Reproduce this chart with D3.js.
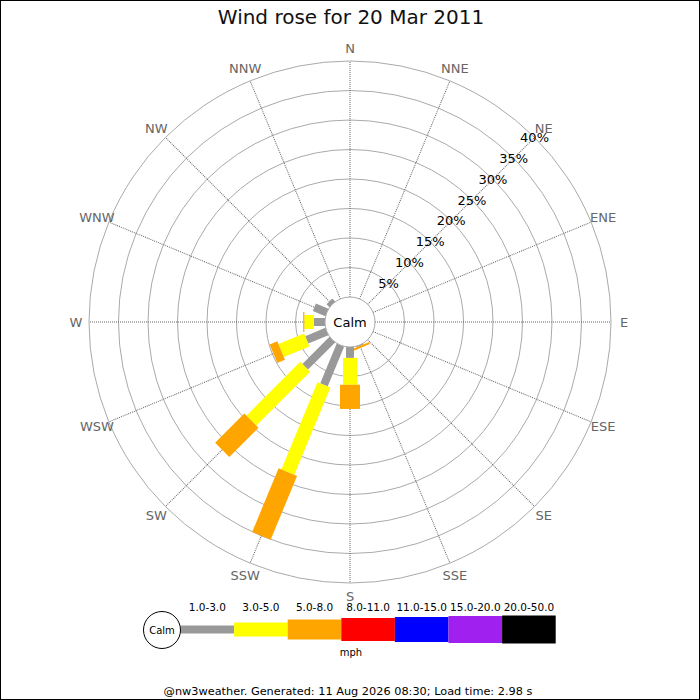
<!DOCTYPE html>
<html>
<head>
<meta charset="utf-8">
<script src="https://cdn.jsdelivr.net/npm/d3@7"></script>
<style>
  html, body { margin: 0; padding: 0; background: #fff; }
  svg { display: block; font-family: "DejaVu Sans", sans-serif; }
</style>
</head>
<body>
<svg id="chart" width="700" height="700"></svg>
<script>
// ---- data ----
const directions = ["N","NNE","NE","ENE","E","ESE","SE","SSE","S","SSW","SW","WSW","W","WNW","NW","NNW"];
const speedBins = ["1.0-3.0","3.0-5.0","5.0-8.0","8.0-11.0","11.0-15.0","15.0-20.0","20.0-50.0"];
const binColors = ["#999999","#ffff00","#ffa500","#ff0000","#0000ff","#a020f0","#000000"];
// percent of time per direction, per speed bin
const pct_1_3   = [0,0,0,0,0,0,0,0.15,1.85,7.3,6.5,3.7,1.9,2.3,0.7,0];
const pct_3_5   = [0,0,0,0,0,0,0,0,4.55,16.0,12.9,4.7,1.6,0,0,0];
const pct_5_8   = [0,0,0,0,0,0,0,0.35,4.1,11.7,7.0,1.4,0.2,0,0,0];
const pct_8_11  = [0,0,0,0,0,0,0,0,0,0,0,0,0,0,0,0];
const pct_11_15 = [0,0,0,0,0,0,0,0,0,0,0,0,0,0,0,0];
const pct_15_20 = [0,0,0,0,0,0,0,0,0,0,0,0,0,0,0,0];
const pct_20_50 = [0,0,0,0,0,0,0,0,0,0,0,0,0,0,0,0];
const percentTicks = [5,10,15,20,25,30,35,40];
const titleText = "Wind rose for 20 Mar 2011";
const unitText = "mph";
const footerText = "@nw3weather. Generated: 11 Aug 2026 08:30; Load time: 2.98 s";

const series = [pct_1_3, pct_3_5, pct_5_8, pct_8_11, pct_11_15, pct_15_20, pct_20_50];
const barWidths = [8, 14, 20, 23, 25, 27, 28];

// ---- layout ----
const W = 700, H = 700;
const cx = 350, cy = 322;
const calmR = 25, outerR = 261;
const svg = d3.select("#chart");

svg.append("rect").attr("x", 0.5).attr("y", 0.5).attr("width", W - 1).attr("height", H - 1)
  .attr("fill", "#fff").attr("stroke", "#000").attr("stroke-width", 1);

svg.append("text").attr("x", 351).attr("y", 24).attr("text-anchor", "middle")
  .attr("font-size", 20).attr("fill", "#111").text(titleText);

const r = d3.scaleLinear().domain([0, 40]).range([calmR, outerR]);
const angle = d3.scalePoint().domain(directions).range([0, 360 - 22.5]);

const g = svg.append("g").attr("transform", `translate(${cx},${cy})`);

// rings
g.selectAll("circle.ring").data(percentTicks).join("circle")
  .attr("class", "ring").attr("r", d => r(d))
  .attr("fill", "none").attr("stroke", "#aaa").attr("stroke-width", 1);

// radial lines
g.selectAll("line.spoke").data(directions).join("line")
  .attr("class", "spoke")
  .attr("transform", d => `rotate(${angle(d)})`)
  .attr("x1", 0).attr("y1", -calmR).attr("x2", 0).attr("y2", -outerR)
  .attr("stroke", "#666").attr("stroke-width", 1).attr("stroke-dasharray", "1,1");

// direction labels
const labR = 274;
g.selectAll("text.dir").data(directions).join("text")
  .attr("class", "dir")
  .attr("x", d => labR * Math.sin(angle(d) * Math.PI / 180))
  .attr("y", d => -labR * Math.cos(angle(d) * Math.PI / 180))
  .attr("text-anchor", "middle").attr("dominant-baseline", "central")
  .attr("font-size", 13).attr("fill", "#666").text(d => d);

// bars
directions.forEach((dir, i) => {
  let cum = 0;
  const dg = g.append("g").attr("transform", `rotate(${angle(dir)})`);
  series.forEach((s, k) => {
    const v = s[i];
    if (v > 0) {
      const r0 = r(cum), r1 = r(cum + v);
      dg.append("rect")
        .attr("x", -barWidths[k] / 2).attr("width", barWidths[k])
        .attr("y", -r1).attr("height", r1 - r0)
        .attr("fill", binColors[k]);
    }
    cum += v;
  });
});

// calm circle
g.append("circle").attr("r", calmR).attr("fill", "#fff").attr("stroke", "#aaa").attr("stroke-width", 1);
g.append("text").attr("text-anchor", "middle").attr("dominant-baseline", "central")
  .attr("font-size", 13).attr("fill", "#000").text("Calm");

// percent labels along NE spoke
const neA = angle("NE") * Math.PI / 180;
g.selectAll("text.pct").data(percentTicks).join("text")
  .attr("class", "pct")
  .attr("x", d => r(d) * Math.sin(neA))
  .attr("y", d => -r(d) * Math.cos(neA))
  .attr("text-anchor", "middle").attr("dominant-baseline", "central")
  .attr("font-size", 13).attr("fill", "#000").text(d => d + "%");

// ---- legend ----
const legY = 629.5;
const legCalmX = 162, legCalmR = 18.5;
const segW = 53.6;
const legX = d3.scaleBand().domain(speedBins).range([legCalmX + legCalmR, legCalmX + legCalmR + segW * speedBins.length]);
const lg = svg.append("g");
lg.selectAll("rect").data(speedBins).join("rect")
  .attr("x", d => legX(d)).attr("width", legX.bandwidth())
  .attr("y", (d, k) => legY - barWidths[k] / 2).attr("height", (d, k) => barWidths[k])
  .attr("fill", (d, k) => binColors[k]);
lg.selectAll("text.bin").data(speedBins).join("text")
  .attr("class", "bin")
  .attr("x", d => legX(d) + legX.bandwidth() / 2).attr("y", 610.5)
  .attr("text-anchor", "middle").attr("font-size", 10.5).attr("fill", "#000").text(d => d);
lg.append("circle").attr("cx", legCalmX).attr("cy", 630).attr("r", legCalmR)
  .attr("fill", "#fff").attr("stroke", "#000").attr("stroke-width", 1);
lg.append("text").attr("x", legCalmX).attr("y", 630).attr("text-anchor", "middle")
  .attr("dominant-baseline", "central").attr("font-size", 10).attr("fill", "#000").text("Calm");
lg.append("text").attr("x", 351).attr("y", 656).attr("text-anchor", "middle")
  .attr("font-size", 10).attr("fill", "#000").text(unitText);

svg.append("text").attr("x", 348).attr("y", 695).attr("text-anchor", "middle")
  .attr("font-size", 11.3).attr("fill", "#000").text(footerText);
</script>
</body>
</html>
